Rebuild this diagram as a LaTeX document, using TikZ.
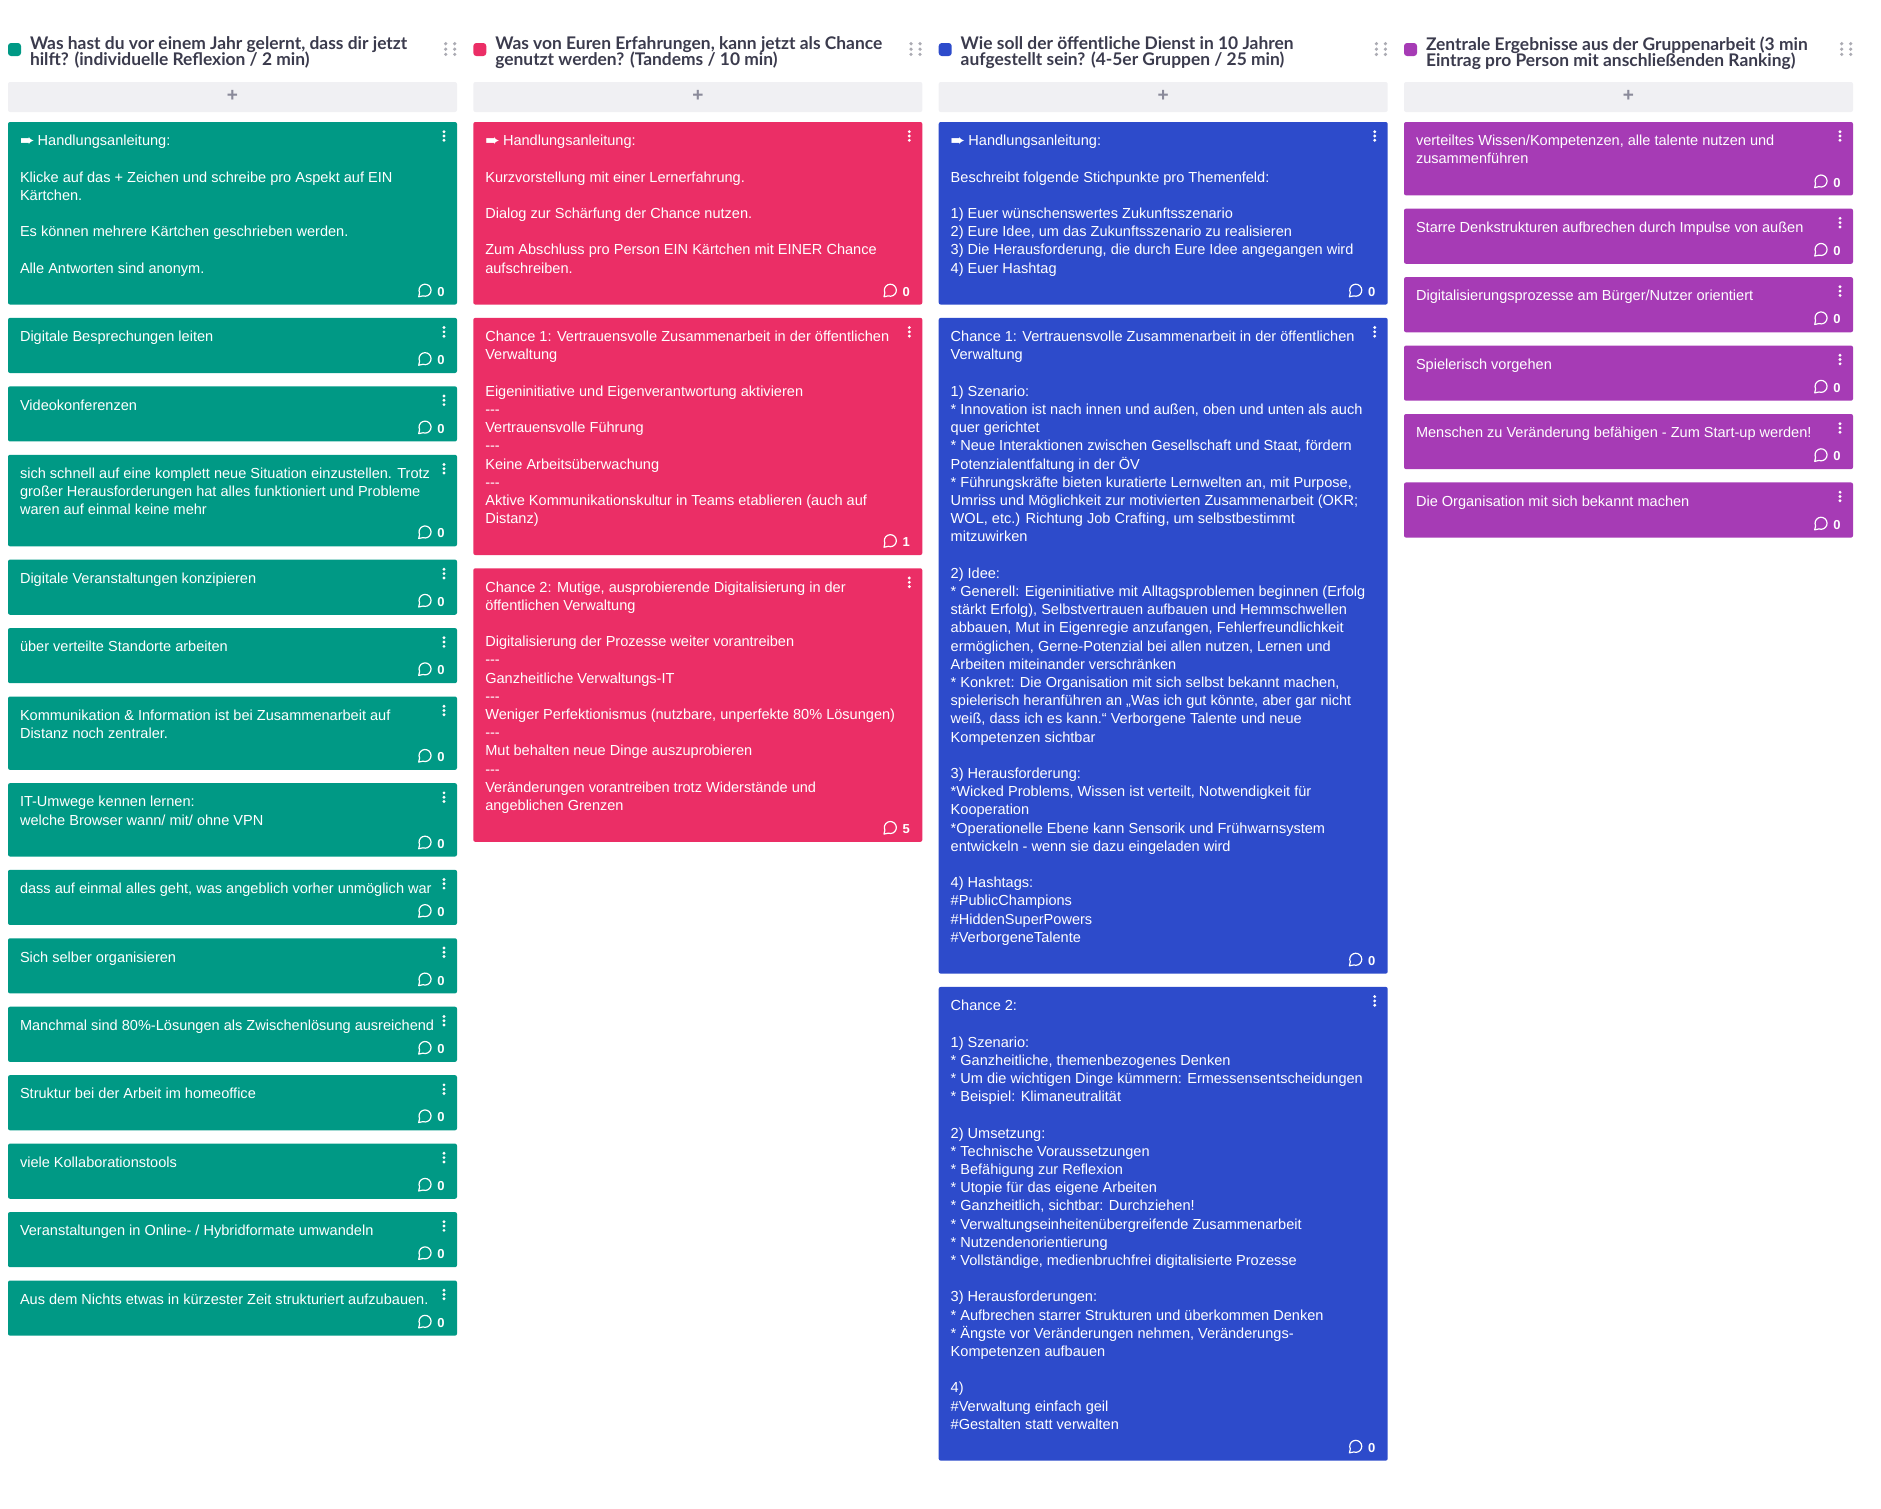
\documentclass[tikz,border=0pt]{standalone}
\usepackage{fontspec}
\usetikzlibrary{positioning}
\setmainfont{Liberation Sans}
\newfontfamily\headfont{Lato}
\newfontfamily\symfont{DejaVu Sans}
\definecolor{cardgreen}{HTML}{009985}
\definecolor{cardred}{HTML}{EB2E66}
\definecolor{cardblue}{HTML}{2D4BCB}
\definecolor{cardviolet}{HTML}{A63BB5}
\definecolor{headink}{HTML}{3B3B4D}
\definecolor{barfill}{HTML}{F0F0F3}
\definecolor{plusink}{HTML}{8A8A9A}
\definecolor{gripink}{HTML}{ABABB3}
\newcommand{\tightlines}{\lineskiplimit=-10pt\relax}
\tikzset{
    cardbg/.style={anchor=north west, minimum width=449pt, inner sep=0pt, outer sep=0pt, rounded corners=2pt},
    cardtext/.style={anchor=north west, inner sep=0pt, outer sep=0pt, align=left, text=white, font=\fontsize{14.55}{18.2}\selectfont},
    cardcount/.style={inner sep=0pt, text=white, font=\fontsize{13}{14}\selectfont\bfseries},
    headsquare/.style={anchor=north west, minimum size=13pt, inner sep=0pt, outer sep=0pt, rounded corners=3pt},
    headtext/.style={anchor=north west, inner sep=0pt, outer sep=0pt, align=left, text=headink, font=\fontsize{17.4}{16}\selectfont\headfont\bfseries\tightlines},
    addbar/.style={anchor=north west, minimum width=449pt, minimum height=30pt, inner sep=0pt, outer sep=0pt, fill=barfill, rounded corners=2pt, text=plusink, font=\fontsize{19}{20}\selectfont\bfseries}
}
\newcommand{\hdlarrow}{\makebox[17.7pt][l]{\smash{\raisebox{-0.8pt}{\symfont\fontsize{17.5}{18}\selectfont ➨}}}}
% name, position, lines, colour, text, count
\newcommand{\kcard}[6]{
    \node [cardbg, fill=#4, minimum height={36.95pt+#3*18.2pt}, #2] (#1) {};
    \node [cardtext, at=(#1.north west), xshift=12pt, yshift=-11pt] (#1t) {\strut #5};
    \begin{scope}[shift={(#1.north east)}]
        \foreach \yy in {9.7,14,18.3}
            \fill [white] (-13,-\yy) circle (1.6);
    \end{scope}
    \begin{scope}[shift={(#1.south east)}]
        \draw [white, line width=1.2pt, line join=round] (-38.3,7.8) -- (-37.4,11.8) arc [start angle=205, end angle=-110, radius=6] -- cycle;
    \end{scope}
    \node [cardcount, at=(#1.south east), xshift=-16pt, yshift=12.8pt] (#1n) {#6};
}
% name, x, colour, title
\newcommand{\klist}[4]{
    \node [headsquare, fill=#3] (#1s) at (#2,-43) {};
    \node [headtext, at=(#1s.north west), xshift=22pt, yshift=6pt] (#1t) {\strut #4};
    \foreach \xx in {437.7,446.7}
        \foreach \yy in {43.7,49.2,54.4}
            \fill [gripink] (#2+\xx,-\yy) circle (1.8);
    \node [addbar] (#1a) at (#2,-82) {\raisebox{1.5pt}{+}};
}
\begin{document}
\begin{tikzpicture}[x=1pt, y=1pt, node distance=13.3pt]
            \useasboundingbox (0,0) rectangle (1881,-1508);
            \klist{ha}{8}{cardgreen}{Was hast du vor einem Jahr gelernt, dass dir jetzt\\hilft? (individuelle Reflexion / 2 min)}
            \klist{hb}{473.3}{cardred}{Was von Euren Erfahrungen, kann jetzt als Chance\\genutzt werden? (Tandems / 10 min)}
            \klist{hc}{938.7}{cardblue}{Wie soll der öffentliche Dienst in 10 Jahren\\aufgestellt sein? (4-5er Gruppen / 25 min)}
            \klist{hd}{1404}{cardviolet}{Zentrale Ergebnisse aus der Gruppenarbeit (3 min\\Eintrag pro Person mit anschließenden Ranking)}
            \kcard{ga}{at={(8,-122)}}{8}{cardgreen}{\hdlarrow Handlungsanleitung:\\~\\Klicke auf das + Zeichen und schreibe pro Aspekt auf EIN\\Kärtchen.\\~\\Es können mehrere Kärtchen geschrieben werden.\\~\\Alle Antworten sind anonym.}{0}
            \kcard{gb}{below=of ga}{1}{cardgreen}{Digitale Besprechungen leiten}{0}
            \kcard{gc}{below=of gb}{1}{cardgreen}{Videokonferenzen}{0}
            \kcard{gd}{below=of gc}{3}{cardgreen}{sich schnell auf eine komplett neue Situation einzustellen. Trotz\\großer Herausforderungen hat alles funktioniert und Probleme\\waren auf einmal keine mehr}{0}
            \kcard{ge}{below=of gd}{1}{cardgreen}{Digitale Veranstaltungen konzipieren}{0}
            \kcard{gf}{below=of ge}{1}{cardgreen}{über verteilte Standorte arbeiten}{0}
            \kcard{gg}{below=of gf}{2}{cardgreen}{Kommunikation \& Information ist bei Zusammenarbeit auf\\Distanz noch zentraler.}{0}
            \kcard{gh}{below=of gg}{2}{cardgreen}{IT-Umwege kennen lernen:\\welche Browser wann/ mit/ ohne VPN}{0}
            \kcard{gi}{below=of gh}{1}{cardgreen}{dass auf einmal alles geht, was angeblich vorher unmöglich war}{0}
            \kcard{gj}{below=of gi}{1}{cardgreen}{Sich selber organisieren}{0}
            \kcard{gk}{below=of gj}{1}{cardgreen}{Manchmal sind 80\%-Lösungen als Zwischenlösung ausreichend}{0}
            \kcard{gl}{below=of gk}{1}{cardgreen}{Struktur bei der Arbeit im homeoffice}{0}
            \kcard{gm}{below=of gl}{1}{cardgreen}{viele Kollaborationstools}{0}
            \kcard{gn}{below=of gm}{1}{cardgreen}{Veranstaltungen in Online- / Hybridformate umwandeln}{0}
            \kcard{go}{below=of gn}{1}{cardgreen}{Aus dem Nichts etwas in kürzester Zeit strukturiert aufzubauen.}{0}
            \kcard{ra}{at={(473.3,-122)}}{8}{cardred}{\hdlarrow Handlungsanleitung:\\~\\Kurzvorstellung mit einer Lernerfahrung.\\~\\Dialog zur Schärfung der Chance nutzen.\\~\\Zum Abschluss pro Person EIN Kärtchen mit EINER Chance\\aufschreiben.}{0}
            \kcard{rb}{below=of ra}{11}{cardred}{Chance 1: Vertrauensvolle Zusammenarbeit in der öffentlichen\\Verwaltung\\~\\Eigeninitiative und Eigenverantwortung aktivieren\\-{}-{}-\\Vertrauensvolle Führung\\-{}-{}-\\Keine Arbeitsüberwachung\\-{}-{}-\\Aktive Kommunikationskultur in Teams etablieren (auch auf\\Distanz)}{1}
            \kcard{rc}{below=of rb}{13}{cardred}{Chance 2: Mutige, ausprobierende Digitalisierung in der\\öffentlichen Verwaltung\\~\\Digitalisierung der Prozesse weiter vorantreiben\\-{}-{}-\\Ganzheitliche Verwaltungs-IT\\-{}-{}-\\Weniger Perfektionismus (nutzbare, unperfekte 80\% Lösungen)\\-{}-{}-\\Mut behalten neue Dinge auszuprobieren\\-{}-{}-\\Veränderungen vorantreiben trotz Widerstände und\\angeblichen Grenzen}{5}
            \kcard{ba}{at={(938.7,-122)}}{8}{cardblue}{\hdlarrow Handlungsanleitung:\\~\\Beschreibt folgende Stichpunkte pro Themenfeld:\\~\\1) Euer wünschenswertes Zukunftsszenario\\2) Eure Idee, um das Zukunftsszenario zu realisieren\\3) Die Herausforderung, die durch Eure Idee angegangen wird\\4) Euer Hashtag}{0}
            \kcard{bb}{below=of ba}{34}{cardblue}{Chance 1: Vertrauensvolle Zusammenarbeit in der öffentlichen\\Verwaltung\\~\\1) Szenario:\\* Innovation ist nach innen und außen, oben und unten als auch\\quer gerichtet\\* Neue Interaktionen zwischen Gesellschaft und Staat, fördern\\Potenzialentfaltung in der ÖV\\* Führungskräfte bieten kuratierte Lernwelten an, mit Purpose,\\Umriss und Möglichkeit zur motivierten Zusammenarbeit (OKR;\\WOL, etc.) Richtung Job Crafting, um selbstbestimmt\\mitzuwirken\\~\\2) Idee:\\* Generell: Eigeninitiative mit Alltagsproblemen beginnen (Erfolg\\stärkt Erfolg), Selbstvertrauen aufbauen und Hemmschwellen\\abbauen, Mut in Eigenregie anzufangen, Fehlerfreundlichkeit\\ermöglichen, Gerne-Potenzial bei allen nutzen, Lernen und\\Arbeiten miteinander verschränken\\* Konkret: Die Organisation mit sich selbst bekannt machen,\\spielerisch heranführen an „Was ich gut könnte, aber gar nicht\\weiß, dass ich es kann.“ Verborgene Talente und neue\\Kompetenzen sichtbar\\~\\3) Herausforderung:\\*Wicked Problems, Wissen ist verteilt, Notwendigkeit für\\Kooperation\\*Operationelle Ebene kann Sensorik und Frühwarnsystem\\entwickeln - wenn sie dazu eingeladen wird\\~\\4) Hashtags:\\\#PublicChampions\\\#HiddenSuperPowers\\\#VerborgeneTalente}{0}
            \kcard{bc}{below=of bb}{24}{cardblue}{Chance 2:\\~\\1) Szenario:\\* Ganzheitliche, themenbezogenes Denken\\* Um die wichtigen Dinge kümmern: Ermessensentscheidungen\\* Beispiel: Klimaneutralität\\~\\2) Umsetzung:\\* Technische Voraussetzungen\\* Befähigung zur Reflexion\\* Utopie für das eigene Arbeiten\\* Ganzheitlich, sichtbar: Durchziehen!\\* Verwaltungseinheitenübergreifende Zusammenarbeit\\* Nutzendenorientierung\\* Vollständige, medienbruchfrei digitalisierte Prozesse\\~\\3) Herausforderungen:\\* Aufbrechen starrer Strukturen und überkommen Denken\\* Ängste vor Veränderungen nehmen, Veränderungs-\\Kompetenzen aufbauen\\~\\4)\\\#Verwaltung einfach geil\\\#Gestalten statt verwalten}{0}
            \kcard{pa}{at={(1404,-122)}}{2}{cardviolet}{verteiltes Wissen/Kompetenzen, alle talente nutzen und\\zusammenführen}{0}
            \kcard{pb}{below=of pa}{1}{cardviolet}{Starre Denkstrukturen aufbrechen durch Impulse von außen}{0}
            \kcard{pc}{below=of pb}{1}{cardviolet}{Digitalisierungsprozesse am Bürger/Nutzer orientiert}{0}
            \kcard{pd}{below=of pc}{1}{cardviolet}{Spielerisch vorgehen}{0}
            \kcard{pe}{below=of pd}{1}{cardviolet}{Menschen zu Veränderung befähigen - Zum Start-up werden!}{0}
            \kcard{pf}{below=of pe}{1}{cardviolet}{Die Organisation mit sich bekannt machen}{0}
\end{tikzpicture}
\end{document}
